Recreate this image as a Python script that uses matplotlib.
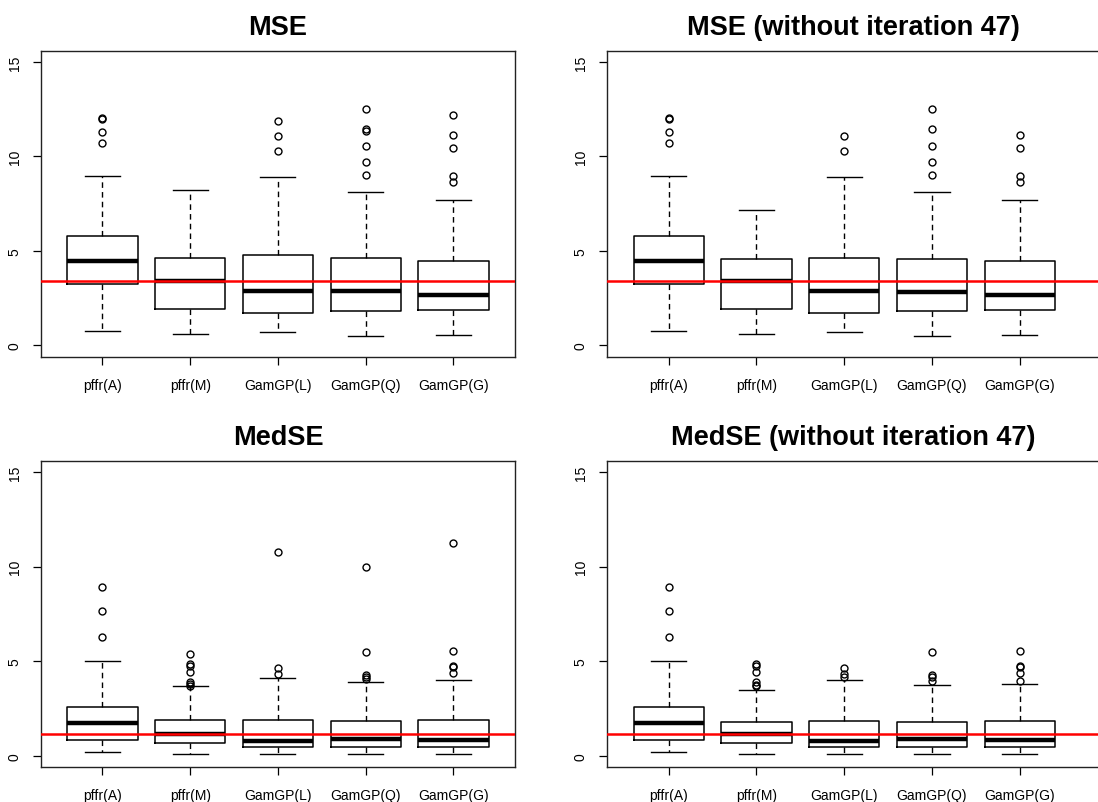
import matplotlib
matplotlib.use("Agg")
import matplotlib.pyplot as plt

plt.rcParams["font.family"] = ["Liberation Sans", "DejaVu Sans"]

methods = ["pffr(A)", "pffr(M)", "GamGP(L)", "GamGP(Q)", "GamGP(G)"]

# five-number summaries per method: (lower whisker, Q1, median, Q3, upper whisker)
mse = [(0.76, 3.23, 4.45, 5.79, 8.95),
       (0.62, 1.91, 3.42, 4.62, 8.21),
       (0.69, 1.73, 2.89, 4.78, 8.91),
       (0.49, 1.80, 2.88, 4.64, 8.14),
       (0.55, 1.89, 2.66, 4.46, 7.69)]
mse_out = [[12.05, 11.96, 11.29, 10.73],
           [],
           [11.86, 11.10, 10.27],
           [12.49, 11.43, 11.33, 10.55, 9.72, 9.00],
           [12.19, 11.12, 10.43, 8.96, 8.63]]

mse47 = [(0.76, 3.23, 4.45, 5.79, 8.95),
         (0.62, 1.91, 3.39, 4.57, 7.16),
         (0.69, 1.73, 2.89, 4.62, 8.91),
         (0.49, 1.80, 2.82, 4.57, 8.14),
         (0.55, 1.89, 2.66, 4.46, 7.69)]
mse47_out = [[12.05, 11.96, 11.29, 10.73],
             [],
             [11.10, 10.27],
             [12.49, 11.45, 10.55, 9.72, 9.00],
             [11.12, 10.43, 8.96, 8.63]]

medse = [(0.19, 0.81, 1.71, 2.56, 4.98),
         (0.11, 0.67, 1.16, 1.87, 3.67),
         (0.09, 0.44, 0.76, 1.91, 4.11),
         (0.11, 0.44, 0.86, 1.85, 3.92),
         (0.09, 0.44, 0.81, 1.91, 4.02)]
medse_out = [[8.91, 7.64, 6.26],
             [5.36, 4.85, 4.76, 4.41, 3.92, 3.79, 3.70],
             [10.76, 4.66, 4.34],
             [9.99, 5.47, 4.27, 4.18, 4.06],
             [11.26, 5.56, 4.76, 4.68, 4.38]]

medse47 = [(0.19, 0.81, 1.71, 2.56, 4.98),
           (0.11, 0.67, 1.15, 1.80, 3.48),
           (0.09, 0.44, 0.76, 1.85, 4.01),
           (0.11, 0.44, 0.86, 1.80, 3.76),
           (0.09, 0.44, 0.81, 1.82, 3.81)]
medse47_out = [[8.91, 7.64, 6.26],
               [4.85, 4.76, 4.41, 3.88, 3.76, 3.67],
               [4.66, 4.34, 4.15],
               [5.49, 4.27, 4.18, 3.97],
               [5.56, 4.76, 4.68, 4.38, 3.97]]

ref_lines = [3.42, 3.39, 1.16, 1.14]
titles = ["MSE", "MSE (without iteration 47)", "MedSE", "MedSE (without iteration 47)"]

W, H = 1098, 803
fig = plt.figure(figsize=(W / 100, H / 100), dpi=100)

# panel rectangles in pixels: left, top, right, bottom
rects = [(41, 51.7, 515, 357.7),
         (607.3, 51.7, 1100, 357.7),
         (41, 461.7, 515, 768),
         (607.3, 461.7, 1100, 768)]

panels = [(mse, mse_out), (mse47, mse47_out), (medse, medse_out), (medse47, medse47_out)]

for (l, t, r, b), (summ, outs), title, ref in zip(rects, panels, titles, ref_lines):
    ax = fig.add_axes([l / W, 1 - b / H, (r - l) / W, (b - t) / H])
    stats = []
    for name, (lo, q1, med, q3, hi), fl in zip(methods, summ, outs):
        stats.append(dict(label=name, whislo=lo, q1=q1, med=med, q3=q3,
                          whishi=hi, fliers=fl))
    ax.bxp(stats, positions=range(1, 6), widths=0.8,
           boxprops=dict(color="black", linewidth=1.1),
           medianprops=dict(color="black", linewidth=3.2, solid_capstyle="butt"),
           whiskerprops=dict(color="black", linewidth=1.0, linestyle=(0, (4, 3))),
           capprops=dict(color="black", linewidth=1.0),
           capwidths=0.4,
           flierprops=dict(marker="o", markerfacecolor="none", markeredgecolor="black",
                           markersize=5, markeredgewidth=1.0))
    ax.axhline(ref, color="#ff0000", linewidth=1.8, zorder=5)

    px_per_unit = 87.75
    ax.set_xlim(0.3, 0.3 + (r - l) / px_per_unit)
    ax.set_ylim(-0.6, 15.6)
    ax.set_yticks([0, 5, 10, 15])
    ax.set_yticklabels(["0", "5", "10", "15"], rotation=90, va="center")
    ax.set_xticks(range(1, 6))
    ax.set_xticklabels(methods)
    ax.tick_params(axis="both", labelsize=10, length=6, width=0.9, direction="out",
                   color="black")
    ax.tick_params(axis="x", pad=9)
    ax.tick_params(axis="y", pad=8)
    for sp in ax.spines.values():
        sp.set_linewidth(1.0)
        sp.set_color("#222222")
    ax.set_title(title, fontsize=19.5, fontweight="bold", pad=12)

fig.savefig("out.png", dpi=100)
